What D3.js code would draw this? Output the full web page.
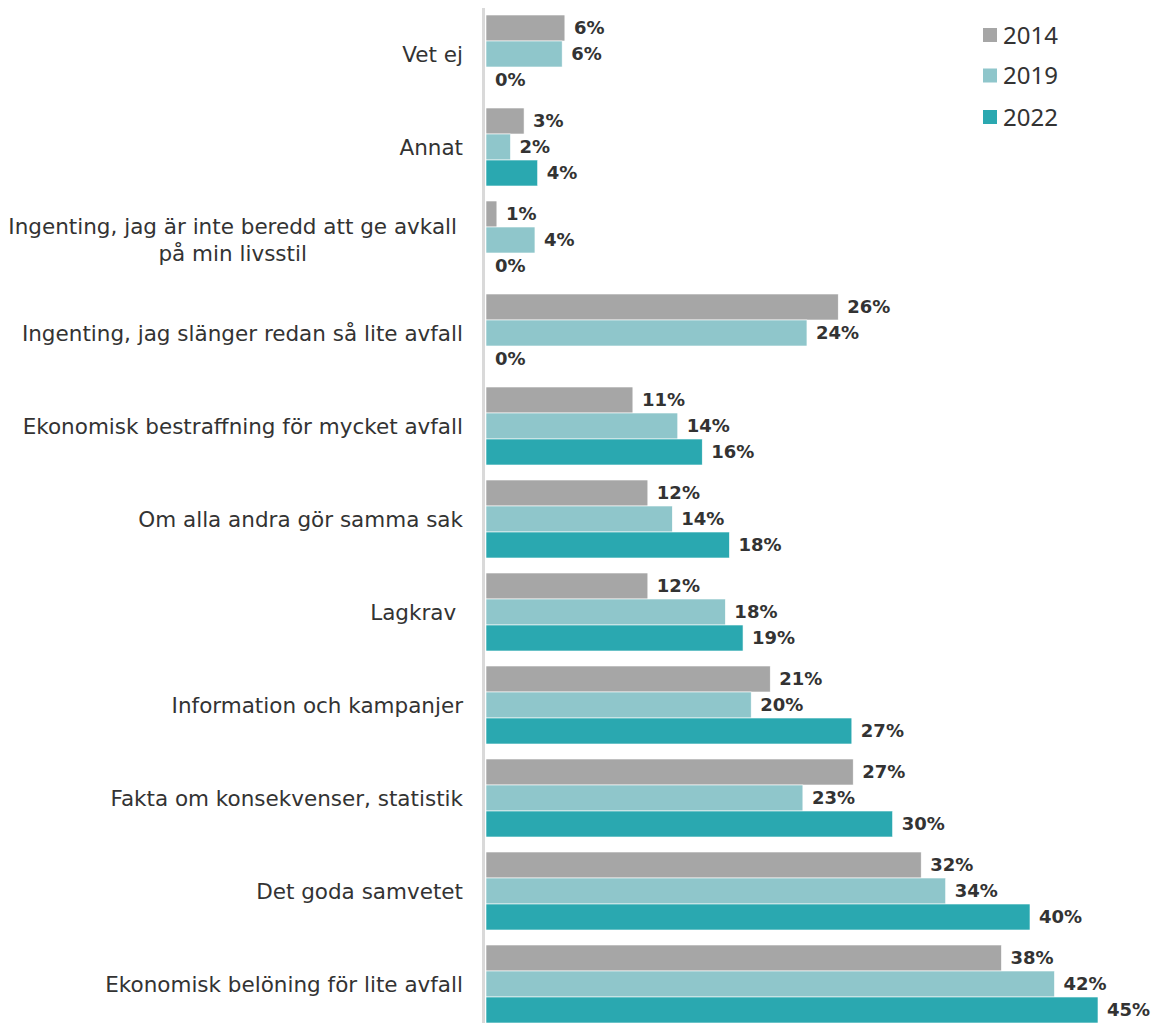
<!DOCTYPE html>
<html>
<head>
<meta charset="utf-8">
<script src="https://cdn.jsdelivr.net/npm/d3@7"></script>
<style>
  html, body { margin: 0; padding: 0; background: #fff; }
  svg { display: block; }
</style>
</head>
<body>
<svg id="chart" width="1151" height="1023"></svg>
<script>
const categories = [
  "Vet ej",
  "Annat",
  "Ingenting, jag är inte beredd att ge avkall|på min livsstil",
  "Ingenting, jag slänger redan så lite avfall",
  "Ekonomisk bestraffning för mycket avfall",
  "Om alla andra gör samma sak",
  "Lagkrav ",
  "Information och kampanjer",
  "Fakta om konsekvenser, statistik",
  "Det goda samvetet",
  "Ekonomisk belöning för lite avfall"
];
const seriesNames = ["2014", "2019", "2022"];
const values2014 = [5.8, 2.8, 0.8, 25.9, 10.8, 11.9, 11.9, 20.9, 27.0, 32.0, 37.9];
const values2019 = [5.6, 1.8, 3.6, 23.6, 14.1, 13.7, 17.6, 19.5, 23.3, 33.8, 41.8];
const values2022 = [0, 3.8, 0, 0, 15.9, 17.9, 18.9, 26.9, 29.9, 40.0, 45.0];
const colors = ["#a6a6a6", "#8fc6cb", "#2aa8b0"];

const seriesValues = [values2014, values2019, values2022];
const svg = d3.select("#chart");
const textColor = "#333333";

const x = d3.scaleLinear().domain([0, 45]).range([486, 1098]);
const y = d3.scaleBand().domain(categories).range([7.5, 1030.5])
  .paddingInner(15 / 93).paddingOuter(7.5 / 93);
const ySub = d3.scaleBand().domain(seriesNames).range([0, y.bandwidth()]).padding(0);

// axis line
svg.append("line")
  .attr("x1", 483.5).attr("x2", 483.5)
  .attr("y1", 8).attr("y2", 1023)
  .attr("stroke", "#d9d9d9").attr("stroke-width", 3);

const data = [];
categories.forEach((c, i) => {
  seriesNames.forEach((s, j) => {
    data.push({ cat: c, series: s, value: seriesValues[j][i], color: colors[j] });
  });
});

svg.append("g").selectAll("rect").data(data.filter(d => d.value > 0)).join("rect")
  .attr("x", x(0))
  .attr("y", d => y(d.cat) + ySub(d.series))
  .attr("width", d => x(d.value) - x(0))
  .attr("height", ySub.bandwidth())
  .attr("fill", d => d.color)
  .attr("stroke", "#ffffff").attr("stroke-width", 0.6);

svg.append("g").selectAll("text").data(data).join("text")
  .attr("x", d => x(d.value) + 9)
  .attr("y", d => y(d.cat) + ySub(d.series) + ySub.bandwidth() / 2)
  .attr("dy", "0.36em")
  .attr("font-family", "'DejaVu Sans', sans-serif")
  .attr("font-weight", "bold")
  .attr("font-size", 18)
  .attr("fill", textColor)
  .text(d => Math.round(d.value) + "%");

// category labels
const labelRight = 463;
const catG = svg.append("g")
  .attr("font-family", "'DejaVu Sans', sans-serif")
  .attr("font-size", 21.5)
  .attr("fill", textColor);
categories.forEach(c => {
  const cy = y(c) + y.bandwidth() / 2;
  const lines = c.split("|");
  if (lines.length === 1) {
    catG.append("text")
      .style("white-space", "pre")
      .attr("x", labelRight).attr("y", cy).attr("dy", "0.35em")
      .attr("text-anchor", "end").text(lines[0]);
  } else {
    const t1 = catG.append("text")
      .attr("x", labelRight - 6).attr("y", cy - 13.5).attr("dy", "0.35em")
      .attr("text-anchor", "end").text(lines[0]);
    const w1 = t1.node().getComputedTextLength();
    catG.append("text")
      .attr("x", labelRight - 6 - w1 / 2).attr("y", cy + 13.5).attr("dy", "0.35em")
      .attr("text-anchor", "middle").text(lines[1]);
  }
});

// legend
const legend = svg.append("g");
const legendY = [35, 75.5, 117];
seriesNames.forEach((s, i) => {
  legend.append("rect")
    .attr("x", 983).attr("y", legendY[i] - 7)
    .attr("width", 14).attr("height", 14)
    .attr("fill", colors[i]);
  legend.append("text")
    .attr("x", 1003).attr("y", legendY[i]).attr("dy", "0.36em")
    .attr("font-family", "'Noto Sans', 'Liberation Sans', Arial, sans-serif")
    .attr("font-size", 24)
    .attr("fill", textColor)
    .text(s);
});
</script>
</body>
</html>
